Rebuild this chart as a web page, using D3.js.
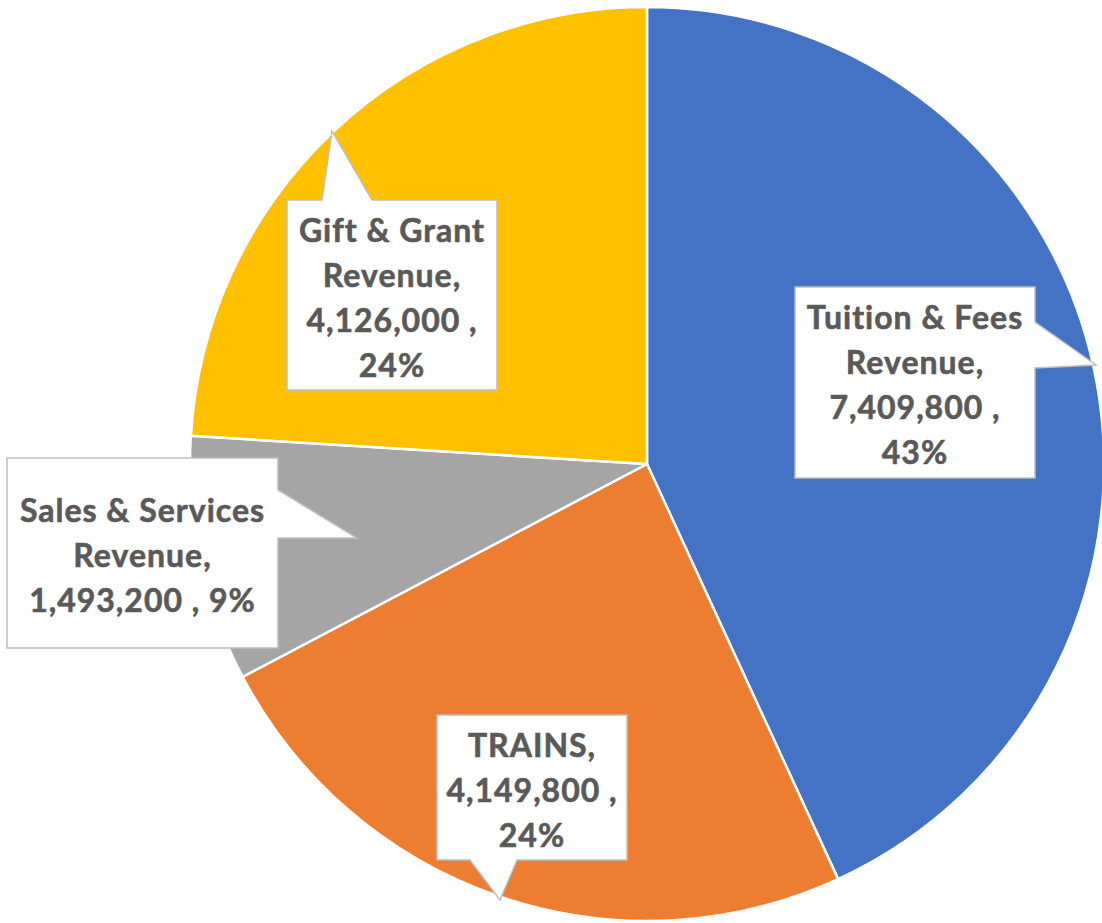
<!DOCTYPE html>
<html>
<head>
<meta charset="utf-8">
<script src="https://cdn.jsdelivr.net/npm/d3@7"></script>
<style>
  html, body { margin: 0; padding: 0; background: #ffffff; }
  svg { display: block; }
</style>
</head>
<body>
<svg id="chart" width="1102" height="923"></svg>
<script>
// ---- data ----
const categories = ["Tuition & Fees Revenue", "TRAINS", "Sales & Services Revenue", "Gift & Grant Revenue"];
const values = [7409800, 4149800, 1493200, 4126000];
const colors = ["#4472C4", "#ED7D31", "#A5A5A5", "#FFC000"];

// ---- layout (positions of callouts, not data) ----
const callouts = [
  { box: [795, 287, 240, 191], side: "right", base: [322, 368], tip: [1096, 365], lines: ["Tuition & Fees", "Revenue,", "{v} ,", "{p}"] },
  { box: [437, 715, 190, 145], side: "bottom", base: [470, 517], tip: [500, 900], lines: ["TRAINS,", "{v} ,", "{p}"] },
  { box: [7, 458, 271, 190], side: "right", base: [490, 538], tip: [357, 538], lines: ["Sales & Services", "Revenue,", "{v} , {p}"] },
  { box: [287, 200, 210, 190], side: "top", base: [322, 372], tip: [332, 131], lines: ["Gift & Grant", "Revenue,", "{v} ,", "{p}"] }
];

const svg = d3.select("#chart");
const cx = 647, cy = 464, r = 457;

const total = d3.sum(values);
const data = categories.map((c, i) => ({ name: c, value: values[i], color: colors[i], callout: callouts[i] }));

const pie = d3.pie().value(d => d.value).sort(null);
const arc = d3.arc().innerRadius(0).outerRadius(r);

const g = svg.append("g").attr("transform", `translate(${cx},${cy})`);
g.selectAll("path.slice")
  .data(pie(data))
  .join("path")
  .attr("class", "slice")
  .attr("d", arc)
  .attr("fill", d => d.data.color)
  .attr("stroke", "#ffffff")
  .attr("stroke-width", 2.5)
  .attr("stroke-linejoin", "round");

const fmtV = d3.format(",");
const fmtP = d3.format(".0%");

function calloutPath(c) {
  const [x, y, w, h] = c.box;
  const x2 = x + w, y2 = y + h;
  const [b0, b1] = c.base;
  const [tx, ty] = c.tip;
  let pts;
  if (c.side === "right") {
    pts = [[x, y], [x2, y], [x2, b0], [tx, ty], [x2, b1], [x2, y2], [x, y2]];
  } else if (c.side === "bottom") {
    pts = [[x, y], [x2, y], [x2, y2], [b1, y2], [tx, ty], [b0, y2], [x, y2]];
  } else if (c.side === "top") {
    pts = [[x, y], [b0, y], [tx, ty], [b1, y], [x2, y], [x2, y2], [x, y2]];
  } else {
    pts = [[x, y], [x2, y], [x2, y2], [x, y2], [x, b1], [tx, ty], [x, b0]];
  }
  return "M" + pts.map(p => p.join(",")).join("L") + "Z";
}

const labels = svg.append("g").selectAll("g.callout")
  .data(data)
  .join("g")
  .attr("class", "callout");

labels.append("path")
  .attr("d", d => calloutPath(d.callout))
  .attr("fill", "#ffffff")
  .attr("stroke", "#BFBFBF")
  .attr("stroke-width", 1.5);

const lineH = 45;
labels.each(function(d) {
  const c = d.callout;
  const [x, y, w, h] = c.box;
  const mx = x + w / 2, my = y + h / 2;
  const n = c.lines.length;
  const t = d3.select(this).append("text")
    .attr("text-anchor", "middle")
    .attr("font-family", "Lato, 'Open Sans', sans-serif")
    .attr("font-weight", 700)
    .attr("font-size", 32)
    .attr("letter-spacing", 1)
    .attr("fill", "#595959")
    .attr("stroke", "#595959")
    .attr("stroke-width", 0.6);
  c.lines.forEach((ln, i) => {
    const s = ln.replace("{v}", fmtV(d.value)).replace("{p}", fmtP(d.value / total));
    t.append("tspan")
      .attr("x", mx)
      .attr("y", my + (i - (n - 1) / 2) * lineH + 14)
      .text(s);
  });
});
</script>
</body>
</html>
